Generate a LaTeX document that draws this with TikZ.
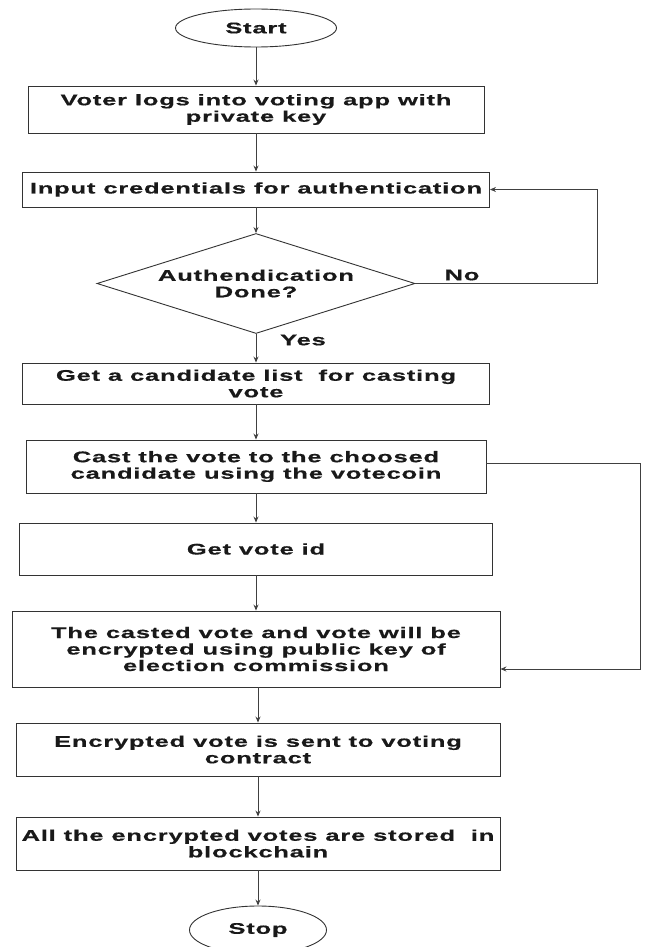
\documentclass[tikz,border=0pt]{standalone}
\usepackage{fontspec}
\setmainfont{Liberation Sans}[FakeStretch=1.66,LetterSpace=5,BoldFeatures={FakeBold=0.5}]
\usetikzlibrary{shapes.geometric,arrows.meta}
\begin{document}
\begin{tikzpicture}[x=1pt,y=-1pt,
  every node/.style={font=\fontsize{15.4}{16.5}\selectfont\bfseries, text=black!90, align=center},
  process/.style={draw=black!80, line width=0.9pt, rectangle, inner sep=0pt},
  terminal/.style={draw=black!80, line width=0.9pt, ellipse, inner sep=0pt},
  decision/.style={draw=black!80, line width=0.9pt, diamond, inner sep=0pt, aspect=3.18},
  flow/.style={draw=black!75, line width=0.9pt, -{Stealth[length=6pt,width=5pt]}},
  tag/.style={inner sep=0pt}]
  % page
  \fill[white] (0,0) rectangle (645,947);
  \useasboundingbox (0,0) rectangle (645,947);

  % steps
  \node[terminal, minimum width=161pt, minimum height=38pt] (start) at (256,28) {Start};
  \node[process, minimum width=456pt, minimum height=47pt] (login) at (256,109.5) {Voter logs into voting app with\\private key};
  \node[process, minimum width=467pt, minimum height=35pt] (cred) at (256,189.5) {Input credentials for authentication};
  \node[decision, minimum width=318pt, minimum height=100pt] (auth) at (256,283.5) {Authendication\\Done?};
  \node[process, minimum width=467pt, minimum height=41pt] (list) at (256,383.5) {Get a candidate list\ \ for casting\\vote};
  \node[process, minimum width=460pt, minimum height=53pt] (cast) at (256,466.5) {Cast the vote to the choosed\\candidate using the votecoin};
  \node[process, minimum width=473pt, minimum height=52pt] (vid) at (256,549) {Get vote id};
  \node[process, minimum width=488pt, minimum height=76pt] (enc) at (256,649) {The casted vote and vote will be\\encrypted using public key of\\election commission};
  \node[process, minimum width=484pt, minimum height=53pt] (send) at (258,749.5) {Encrypted vote is sent to voting\\contract};
  \node[process, minimum width=484pt, minimum height=53pt] (store) at (258,843.5) {All the encrypted votes are stored\ \ in\\blockchain};
  \node[terminal, minimum width=137pt, minimum height=48pt] (stop) at (258,930) {Stop};

  % main flow
  \draw[flow] (start) -- (login);
  \draw[flow] (login) -- (cred);
  \draw[flow] (cred) -- (auth);
  \draw[flow] (auth) -- (list);
  \draw[flow] (list) -- (cast);
  \draw[flow] (cast) -- (vid);
  \draw[flow] (vid) -- (enc);
  \draw[flow] (enc.south -| send.north) -- (send.north);
  \draw[flow] (send) -- (store);
  \draw[flow] (store) -- (stop);

  % branch labels
  \node[tag] (nolabel) at (462,275) {No};
  \node[tag] (yeslabel) at (303,340) {Yes};

  % retry loop
  \coordinate (noturn) at (597,283.5);
  \draw[flow] (auth.east) -- (noturn) |- (cred.east);

  % bypass from casting to encryption
  \coordinate (skip) at (640,463);
  \draw[flow] (cast.east |- skip) -- (skip) |- ([yshift=-20pt]enc.east);
\end{tikzpicture}
\end{document}
